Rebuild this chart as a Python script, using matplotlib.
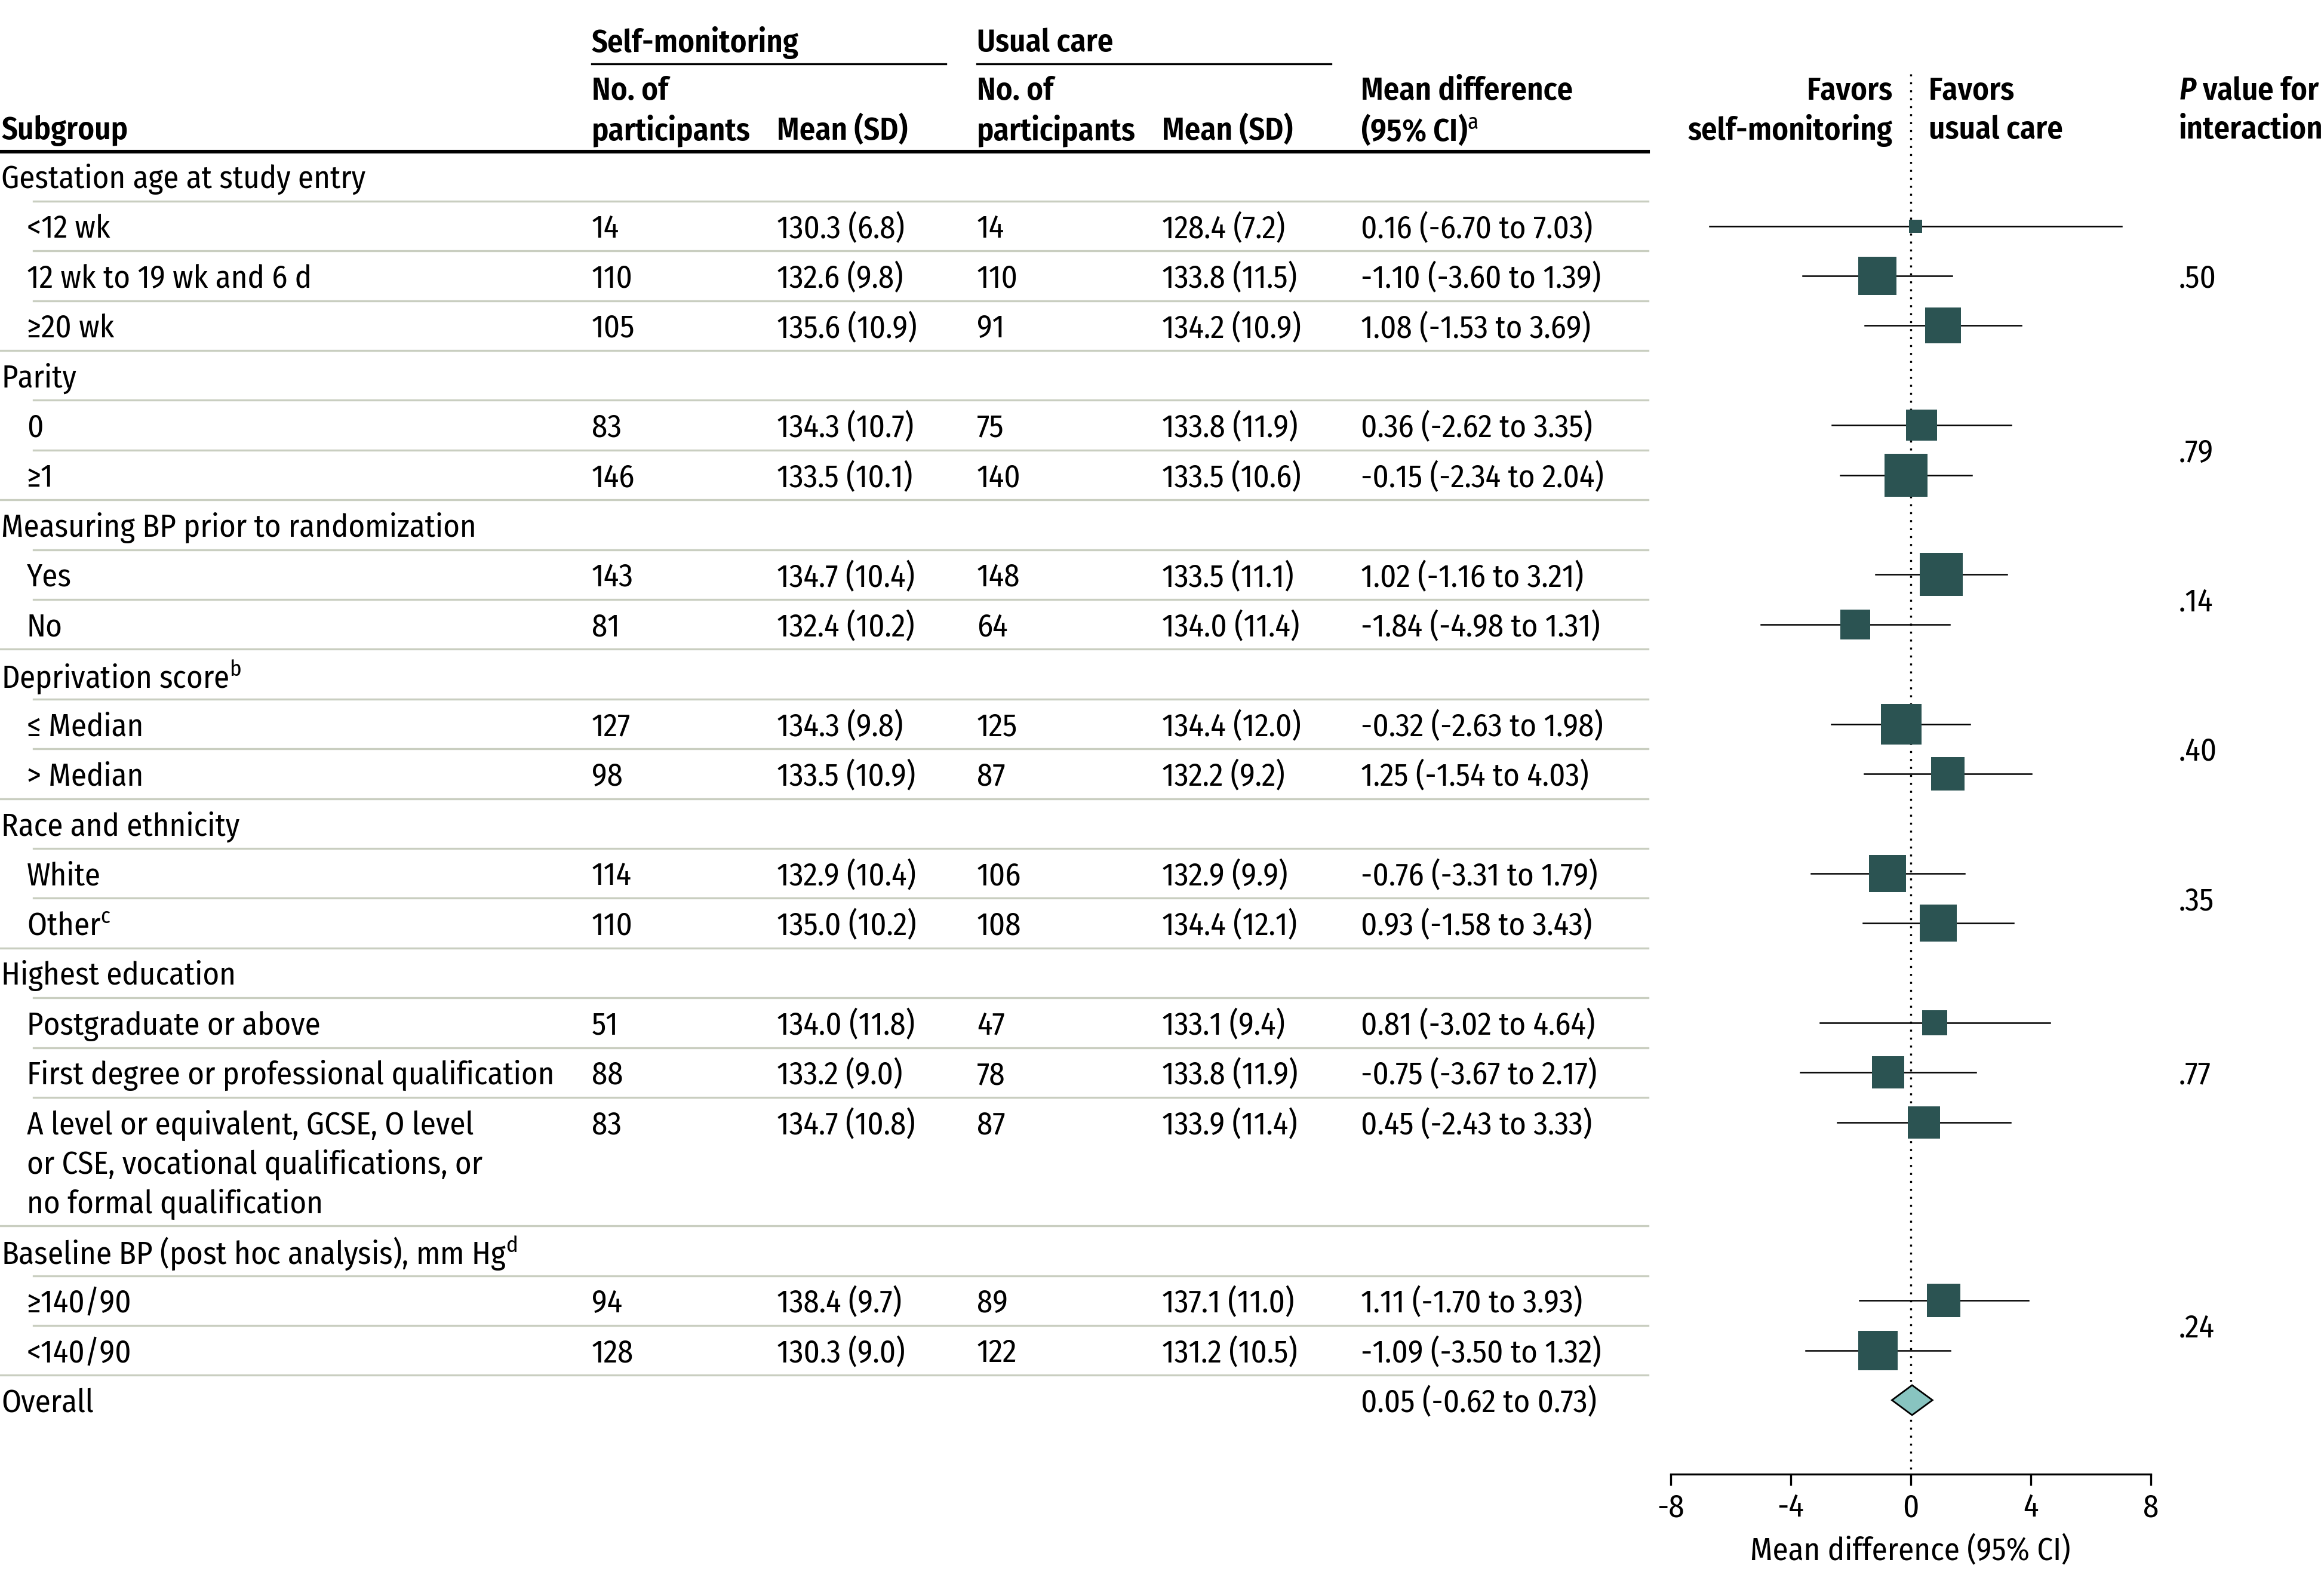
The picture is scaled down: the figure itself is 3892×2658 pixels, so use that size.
import matplotlib
matplotlib.use("Agg")
import matplotlib.pyplot as plt
import matplotlib.transforms as mtransforms
from matplotlib.lines import Line2D
from matplotlib.patches import Polygon

base_font = 'Fira Sans Condensed'
plt.rcParams['font.family'] = [base_font, 'DejaVu Sans']
plt.rcParams['mathtext.fontset'] = 'custom'
plt.rcParams['mathtext.rm'] = base_font
plt.rcParams['mathtext.it'] = base_font + ':italic:semibold'

# data
group_titles = ["Gestation age at study entry", "Parity", "Measuring BP prior to randomization",
                "Deprivation score", "Race and ethnicity", "Highest education",
                "Baseline BP (post hoc analysis), mm Hg"]
group_notes = ["", "", "", "b", "", "", "d"]
group_sizes = [3, 2, 2, 2, 2, 3, 2]
p_interaction = [".50", ".79", ".14", ".40", ".35", ".77", ".24"]

sub_labels = ["<12 wk", "12 wk to 19 wk and 6 d", "≥20 wk", "0", "≥1", "Yes", "No",
              "≤ Median", "> Median", "White", "Other", "Postgraduate or above",
              "First degree or professional qualification",
              "A level or equivalent, GCSE, O level\nor CSE, vocational qualifications, or\nno formal qualification",
              "≥140/90", "<140/90"]
sub_notes = [""] * 10 + ["c"] + [""] * 5
n_self = [14, 110, 105, 83, 146, 143, 81, 127, 98, 114, 110, 51, 88, 83, 94, 128]
mean_self = [130.3, 132.6, 135.6, 134.3, 133.5, 134.7, 132.4, 134.3, 133.5, 132.9, 135.0, 134.0, 133.2, 134.7, 138.4, 130.3]
sd_self = [6.8, 9.8, 10.9, 10.7, 10.1, 10.4, 10.2, 9.8, 10.9, 10.4, 10.2, 11.8, 9.0, 10.8, 9.7, 9.0]
n_usual = [14, 110, 91, 75, 140, 148, 64, 125, 87, 106, 108, 47, 78, 87, 89, 122]
mean_usual = [128.4, 133.8, 134.2, 133.8, 133.5, 133.5, 134.0, 134.4, 132.2, 132.9, 134.4, 133.1, 133.8, 133.9, 137.1, 131.2]
sd_usual = [7.2, 11.5, 10.9, 11.9, 10.6, 11.1, 11.4, 12.0, 9.2, 9.9, 12.1, 9.4, 11.9, 11.4, 11.0, 10.5]
md = [0.16, -1.10, 1.08, 0.36, -0.15, 1.02, -1.84, -0.32, 1.25, -0.76, 0.93, 0.81, -0.75, 0.45, 1.11, -1.09]
md_lo = [-6.70, -3.60, -1.53, -2.62, -2.34, -1.16, -4.98, -2.63, -1.54, -3.31, -1.58, -3.02, -3.67, -2.43, -1.70, -3.50]
md_hi = [7.03, 1.39, 3.69, 3.35, 2.04, 3.21, 1.31, 1.98, 4.03, 1.79, 3.43, 4.64, 2.17, 3.33, 3.93, 1.32]
overall_md, overall_lo, overall_hi = 0.05, -0.62, 0.73

# style
fs = 19
hw = 'semibold'
sq_color = '#2b5352'
diamond_color = '#88c4c0'
sep_color = '#c9cec0'
col_x = [0.2545, 0.3342, 0.4203, 0.5, 0.5855]
table_right = 0.7092
dy = 0.06  # small downward nudge for text

fig = plt.figure(figsize=(19.46, 13.29), dpi=200)
ax = fig.add_axes([0.7188, 0.0710, 0.2066, 0.929])
ax.set_xlim(-8, 8)
ax.set_ylim(26.07, -3.54)
blend = mtransforms.blended_transform_factory(fig.transFigure, ax.transData)

def ftext(x, y, s, **kw):
    kw.setdefault('fontsize', fs)
    kw.setdefault('va', 'center')
    fig.text(x, y + dy, s, transform=blend, **kw)

def hline(x0, x1, y, color, lw):
    fig.add_artist(Line2D([x0, x1], [y, y], transform=blend, color=color, lw=lw))

# header
ftext(0.0006, -0.98, "Subgroup", fontweight=hw)
ftext(col_x[0], -2.74, "Self-monitoring", fontweight=hw)
ftext(col_x[2], -2.74, "Usual care", fontweight=hw)
hline(col_x[0], 0.4069, -2.26, 'black', 1.2)
hline(col_x[2], 0.5727, -2.26, 'black', 1.2)
for cx in (col_x[0], col_x[2]):
    ftext(cx, -1.76, "No. of", fontweight=hw)
    ftext(cx, -0.98, "participants", fontweight=hw)
for cx in (col_x[1], col_x[3]):
    ftext(cx, -0.98, "Mean (SD)", fontweight=hw)
ftext(col_x[4], -1.76, "Mean difference", fontweight=hw)
ftext(col_x[4], -0.98, r"(95% CI)$^{\mathrm{a}}$", fontweight=hw)
ftext(0.9375, -1.76, r"$\mathit{P}$ value for", fontweight=hw)
ftext(0.9375, -0.98, "interaction", fontweight=hw)
hline(0, table_right, -0.5, 'black', 2.2)

ax.text(-0.6, -1.76 + dy, "Favors", ha='right', va='center', fontsize=fs, fontweight=hw)
ax.text(-0.6, -0.98 + dy, "self-monitoring", ha='right', va='center', fontsize=fs, fontweight=hw)
ax.text(0.6, -1.76 + dy, "Favors", ha='left', va='center', fontsize=fs, fontweight=hw)
ax.text(0.6, -0.98 + dy, "usual care", ha='left', va='center', fontsize=fs, fontweight=hw)

# rows
y = 0.0
i = 0
line_step = 0.79
for g, title in enumerate(group_titles):
    if g > 0:
        hline(0, table_right, y - 0.5, sep_color, 1.2)
    note = r"$^{\mathrm{%s}}$" % group_notes[g] if group_notes[g] else ""
    ftext(0.0006, y, title + note)
    y += 1
    ys = []
    for k in range(group_sizes[g]):
        hline(0.0145, table_right, y - 0.5, sep_color, 1.2)
        lines = sub_labels[i].split("\n")
        note = r"$^{\mathrm{%s}}$" % sub_notes[i] if sub_notes[i] else ""
        for j, ln in enumerate(lines):
            ftext(0.0115, y + j * line_step, ln + (note if j == len(lines) - 1 else ""))
        ftext(col_x[0], y, f"{n_self[i]}")
        ftext(col_x[1], y, f"{mean_self[i]:.1f} ({sd_self[i]:.1f})")
        ftext(col_x[2], y, f"{n_usual[i]}")
        ftext(col_x[3], y, f"{mean_usual[i]:.1f} ({sd_usual[i]:.1f})")
        ftext(col_x[4], y, f"{md[i]:.2f} ({md_lo[i]:.2f} to {md_hi[i]:.2f})")
        ax.plot([md_lo[i], md_hi[i]], [y, y], color='black', lw=0.9, zorder=2)
        # square size follows inverse CI width
        side = 127.0 / (md_hi[i] - md_lo[i]) * 0.8935
        ax.plot(md[i], y, marker='s', ms=side, color=sq_color, mew=0, zorder=3)
        ys.append(y)
        y += 1 + (len(lines) - 1) * line_step
        i += 1
    ftext(0.9375, sum(ys) / len(ys), p_interaction[g])

hline(0, table_right, y - 0.5, sep_color, 1.2)
ftext(0.0006, y, "Overall")
ftext(col_x[4], y, f"{overall_md:.2f} ({overall_lo:.2f} to {overall_hi:.2f})")
h = 0.3
ax.add_patch(Polygon([(overall_lo, y), (overall_md, y - h), (overall_hi, y), (overall_md, y + h)],
                     closed=True, facecolor=diamond_color, edgecolor='black', lw=1.0, zorder=3))

# reference line at 0
ax.plot([0, 0], [-2.05, 26.07], ls=(0, (1, 3)), color='black', lw=1.2, clip_on=False, zorder=1)

# axis
for s in ('top', 'right', 'left'):
    ax.spines[s].set_visible(False)
ax.spines['bottom'].set_linewidth(1.2)
ax.set_yticks([])
ax.set_xticks([-8, -4, 0, 4, 8])
ax.set_xticklabels(["-8", "-4", "0", "4", "8"])
ax.tick_params(axis='x', direction='out', length=7, width=1.2, labelsize=fs, pad=4)
ax.set_xlabel("Mean difference (95% CI)", fontsize=fs, labelpad=7)
ax.patch.set_visible(False)

fig.savefig("out.png", dpi=200)
